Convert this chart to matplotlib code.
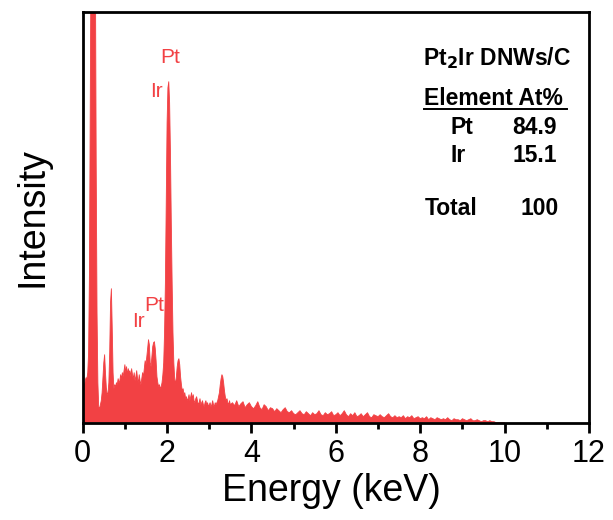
import numpy as np
import matplotlib
matplotlib.use('Agg')
import matplotlib.pyplot as plt
from matplotlib.ticker import MultipleLocator

plt.rcParams['font.family'] = ['Liberation Sans', 'DejaVu Sans']

# EDS spectrum (intensity in arbitrary units, axis top = 411)
energy_low = np.round(np.arange(0, 3.51, 0.02), 2)
counts_low = [
    38, 40, 36, 42, 45, 44, 50, 70, 150, 320,
    500, 640, 700, 700, 650, 480, 260, 110, 40, 16,
    14, 18, 22, 30, 45, 60, 68, 50, 35, 28,
    30, 40, 70, 120, 134, 95, 50, 34, 38, 36,
    40, 38, 44, 40, 42, 48, 44, 50, 46, 52,
    58, 50, 56, 48, 54, 50, 52, 46, 54, 48,
    44, 50, 42, 46, 52, 44, 40, 48, 42, 38,
    44, 50, 46, 54, 62, 58, 66, 74, 83, 78,
    60, 56, 66, 76, 80, 81, 74, 62, 46, 40,
    36, 38, 34, 36, 40, 48, 60, 90, 140, 220,
    300, 335, 341, 320, 270, 200, 140, 90, 60, 44,
    38, 46, 56, 62, 64, 58, 46, 38, 32, 34,
    28, 30, 24, 26, 22, 24, 28, 22, 26, 30,
    24, 28, 22, 20, 24, 26, 22, 18, 20, 24,
    18, 20, 22, 18, 16, 20, 22, 18, 20, 16,
    18, 20, 16, 18, 22, 18, 16, 20, 18, 20,
    22, 26, 30, 38, 44, 48, 46, 40, 32, 26,
    22, 24, 20, 18, 22, 18,
]
energy_high = np.round(np.arange(3.55, 10.01, 0.05), 2)
counts_high = [
    20, 17, 22, 16, 19, 21, 15, 18, 20, 16,
    14, 17, 21, 15, 13, 18, 16, 12, 15, 14,
    11, 14, 12, 10, 13, 15, 11, 10, 12, 9,
    8, 10, 12, 9, 8, 11, 9, 7, 10, 8,
    9, 12, 8, 7, 10, 8, 9, 11, 7, 8,
    10, 7, 9, 12, 8, 6, 9, 7, 10, 6,
    7, 9, 6, 8, 10, 6, 5, 8, 7, 6,
    8, 6, 5, 7, 9, 6, 5, 7, 5, 6,
    5, 7, 4, 6, 5, 7, 4, 5, 6, 4,
    5, 4, 6, 3, 5, 4, 3, 5, 4, 3,
    4, 3, 5, 3, 2, 4, 3, 3, 2, 4,
    3, 2, 3, 4, 2, 2, 3, 2, 1, 2,
    2, 1, 2, 1, 1, 0, 0, 0, 0, 0,
]

energy = np.concatenate([energy_low, energy_high])
counts = np.array(counts_low + counts_high, dtype=float)

elements = ['Pt', 'Ir']
atomic_pct = ['84.9', '15.1']
total_pct = '100'

red = '#F24144'

fig = plt.figure(figsize=(6.13, 5.2), dpi=100)
ax = fig.add_axes([0.1349, 0.1871, 0.826, 0.7904])

ax.fill_between(energy, 0, counts, color=red, lw=0)
ax.plot(energy, counts, color=red, lw=0.6)

ax.set_xlim(0, 12)
ax.set_ylim(0, 411)
ax.xaxis.set_major_locator(MultipleLocator(2))
ax.xaxis.set_minor_locator(MultipleLocator(1))
ax.set_yticks([])
ax.tick_params(axis='x', which='major', direction='out', length=7, width=2, labelsize=22, pad=5)
ax.tick_params(axis='x', which='minor', direction='out', length=4, width=2)
for s in ax.spines.values():
    s.set_linewidth(2)

ax.set_xlabel('Energy (keV)', fontsize=27)
ax.xaxis.set_label_coords(0.4904, -0.1224)
ax.set_ylabel('Intensity', fontsize=27)
ax.yaxis.set_label_coords(-0.0626, 0.5)

# peak labels
ax.text(2.07, 365.7, 'Pt', color=red, fontsize=15, ha='center', va='center')
ax.text(1.74, 331.7, 'Ir', color=red, fontsize=15, ha='center', va='center')
ax.text(1.70, 117.7, 'Pt', color=red, fontsize=15, ha='center', va='center')
ax.text(1.31, 101, 'Ir', color=red, fontsize=15, ha='center', va='center')

# composition table
fs = 16.5
ax.text(8.07, 357.7, r'Pt$_\mathbf{2}$Ir DNWs/C', fontsize=fs, fontweight='bold',
        ha='left', va='baseline')
ax.text(8.08, 317.7, 'Element At%', fontsize=fs, fontweight='bold', ha='left', va='baseline')
ax.plot([8.08, 11.47], [314.2, 314.2], color='black', lw=1.4)
ys = [288.7, 260.7]
for el, pct, y in zip(elements, atomic_pct, ys):
    ax.text(8.72, y, el, fontsize=fs, fontweight='bold', ha='left', va='baseline')
    ax.text(10.19, y, pct, fontsize=fs, fontweight='bold', ha='left', va='baseline')
ax.text(8.10, 207.7, 'Total', fontsize=fs, fontweight='bold', ha='left', va='baseline')
ax.text(10.38, 207.7, total_pct, fontsize=fs, fontweight='bold', ha='left', va='baseline')

fig.savefig('out.png', dpi=100)
